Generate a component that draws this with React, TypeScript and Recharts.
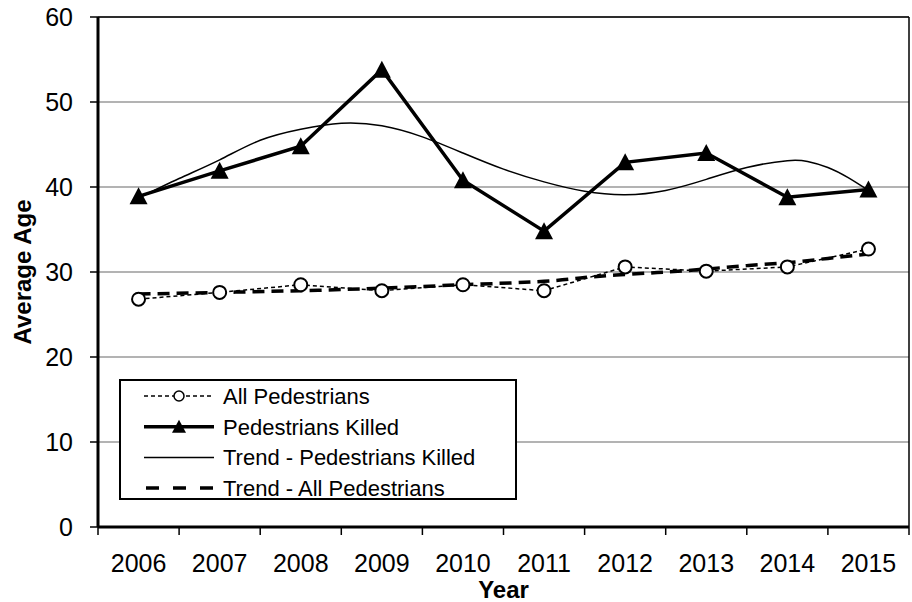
import React from "react";
import {
  LineChart,
  Line,
  XAxis,
  YAxis,
  CartesianGrid,
  ReferenceLine,
  Legend,
  Label,
} from "recharts";

const FONT = "'Liberation Sans', Arial, sans-serif";

// yearly averages
const years = [2006, 2007, 2008, 2009, 2010, 2011, 2012, 2013, 2014, 2015];
const allPedestrians = [26.8, 27.6, 28.5, 27.8, 28.5, 27.8, 30.6, 30.1, 30.6, 32.7];
const pedestriansKilled = [38.9, 41.9, 44.8, 53.8, 40.8, 34.8, 42.9, 44.0, 38.8, 39.7];

// polynomial trend lines
const trendKilledX = [2006, 2006.5, 2007, 2007.5, 2008, 2008.5, 2009, 2009.5, 2010, 2010.5, 2011, 2011.5, 2012, 2012.5, 2013, 2013.5, 2014, 2014.25, 2014.5, 2014.75, 2015];
const trendKilledY = [38.7, 41.0, 43.2, 45.5, 46.8, 47.5, 47.2, 45.9, 44.0, 42.1, 40.6, 39.5, 39.1, 39.6, 40.9, 42.3, 43.1, 43.0, 42.3, 41.1, 39.6];
const trendAllX = [2006, 2007, 2008, 2009, 2010, 2011, 2011.5, 2012, 2012.5, 2013, 2013.5, 2014, 2014.5, 2015];
const trendAllY = [27.4, 27.6, 27.8, 28.1, 28.5, 28.9, 29.35, 29.7, 30.0, 30.35, 30.75, 31.1, 31.6, 32.1];

const yTicks = [0, 10, 20, 30, 40, 50, 60];
const xTicks = [2005.5, ...years.flatMap((y) => [y, y + 0.5])];

const legendItems = [
  { name: "All Pedestrians", kind: "all" },
  { name: "Pedestrians Killed", kind: "killed" },
  { name: "Trend - Pedestrians Killed", kind: "trendKilled" },
  { name: "Trend - All Pedestrians", kind: "trendAll" },
];

const seriesData = years.map((year, i) => ({
  year,
  all: allPedestrians[i],
  killed: pedestriansKilled[i],
}));
const trendKilledData = trendKilledX.map((year, i) => ({ year, value: trendKilledY[i] }));
const trendAllData = trendAllX.map((year, i) => ({ year, value: trendAllY[i] }));

function triangle(cx: number, cy: number) {
  return `${cx},${cy - 9} ${cx + 9},${cy + 8} ${cx - 9},${cy + 8}`;
}

function YearTick(props: any) {
  const { x, y, payload } = props;
  const v = payload.value;
  if (v % 1 !== 0) {
    return <line x1={x} x2={x} y1={y} y2={y + 8} stroke="#000" strokeWidth={1.5} />;
  }
  return (
    <text x={x} y={y + 45} textAnchor="middle" fontSize={25} fontFamily={FONT} fill="#000">
      {v}
    </text>
  );
}

function LegendBox() {
  return (
    <svg width={398} height={121} style={{ display: "block" }}>
      <rect x={1} y={1} width={396} height={119} fill="#fff" stroke="#000" strokeWidth={2} />
      {legendItems.map((item, i) => {
        const cy = 17 + i * 30.7;
        let symbol = null;
        if (item.kind === "all") {
          symbol = (
            <g>
              <line x1={25} x2={95} y1={cy} y2={cy} stroke="#000" strokeWidth={1.5} strokeDasharray="4 3" />
              <circle cx={60} cy={cy} r={5} fill="#fff" stroke="#000" strokeWidth={1.5} />
            </g>
          );
        } else if (item.kind === "killed") {
          symbol = (
            <g>
              <line x1={25} x2={95} y1={cy} y2={cy} stroke="#000" strokeWidth={3.5} />
              <polygon points={`${60},${cy - 7} ${67},${cy + 6} ${53},${cy + 6}`} fill="#000" />
            </g>
          );
        } else if (item.kind === "trendKilled") {
          symbol = <line x1={25} x2={95} y1={cy} y2={cy} stroke="#000" strokeWidth={1.5} />;
        } else {
          symbol = (
            <line x1={27} x2={95} y1={cy} y2={cy} stroke="#000" strokeWidth={3.5} strokeDasharray="13 14" />
          );
        }
        return (
          <g key={item.name}>
            {symbol}
            <text x={104} y={cy + 8} fontSize={22} fontFamily={FONT} fill="#000">
              {item.name}
            </text>
          </g>
        );
      })}
    </svg>
  );
}

export default function App() {
  return (
    <div style={{ position: "absolute", left: 0, top: 0, width: 912, height: 602, background: "#fff" }}>
      <LineChart
        width={912}
        height={602}
        margin={{ top: 17, right: 3, bottom: 0, left: 0 }}
        style={{ fontFamily: FONT }}
      >
        <CartesianGrid vertical={false} stroke="#9a9a9a" strokeWidth={1.5} />
        <XAxis
          xAxisId={0}
          dataKey="year"
          type="number"
          domain={[2005.5, 2015.5]}
          ticks={xTicks}
          interval={0}
          allowDataOverflow
          tickLine={false}
          tickSize={0}
          tickMargin={0}
          tick={<YearTick />}
          axisLine={{ stroke: "#000", strokeWidth: 3 }}
          height={75}
        >
          <Label
            content={(p: any) => (
              <text
                x={p.viewBox.x + p.viewBox.width / 2}
                y={p.viewBox.y + 71}
                textAnchor="middle"
                fontSize={24}
                fontWeight="bold"
                fontFamily={FONT}
                fill="#000"
              >
                Year
              </text>
            )}
          />
        </XAxis>
        <YAxis
          domain={[0, 60]}
          ticks={yTicks}
          interval={0}
          width={98}
          tickSize={8}
          tickMargin={17}
          tick={{ fill: "#000", fontSize: 25, fontFamily: FONT }}
          tickLine={{ stroke: "#000", strokeWidth: 1.5 }}
          axisLine={{ stroke: "#000", strokeWidth: 3 }}
        >
          <Label
            content={(p: any) => {
              const cx = p.viewBox.x + 31;
              const cy = p.viewBox.y + p.viewBox.height / 2;
              return (
                <text
                  x={cx}
                  y={cy}
                  transform={`rotate(-90 ${cx} ${cy})`}
                  textAnchor="middle"
                  fontSize={24}
                  fontWeight="bold"
                  fontFamily={FONT}
                  fill="#000"
                >
                  Average Age
                </text>
              );
            }}
          />
        </YAxis>
        <ReferenceLine y={60} stroke="#000" strokeWidth={1.5} />
        <ReferenceLine x={2015.5} stroke="#000" strokeWidth={1.5} />
        <Line
          data={trendKilledData}
          dataKey="value"
          type="natural"
          stroke="#000"
          strokeWidth={1.5}
          dot={false}
          activeDot={false}
          isAnimationActive={false}
          legendType="none"
        />
        <Line
          data={trendAllData}
          dataKey="value"
          type="natural"
          stroke="#000"
          strokeWidth={3.5}
          strokeDasharray="12 7"
          dot={false}
          activeDot={false}
          isAnimationActive={false}
          legendType="none"
        />
        <Line
          data={seriesData}
          dataKey="all"
          type="linear"
          stroke="#000"
          strokeWidth={1.5}
          strokeDasharray="4 3"
          dot={(p: any) => (
            <circle key={`a-${p.index}`} cx={p.cx} cy={p.cy} r={6.5} fill="#fff" stroke="#000" strokeWidth={2} />
          )}
          activeDot={false}
          isAnimationActive={false}
        />
        <Line
          data={seriesData}
          dataKey="killed"
          type="linear"
          stroke="#000"
          strokeWidth={3.5}
          dot={(p: any) => <polygon key={`k-${p.index}`} points={triangle(p.cx, p.cy)} fill="#000" />}
          activeDot={false}
          isAnimationActive={false}
        />
        <Legend
          layout="horizontal"
          align="center"
          verticalAlign="middle"
          wrapperStyle={{ left: 119, top: 379, width: 398, height: 121 }}
          content={() => <LegendBox />}
        />
      </LineChart>
    </div>
  );
}
